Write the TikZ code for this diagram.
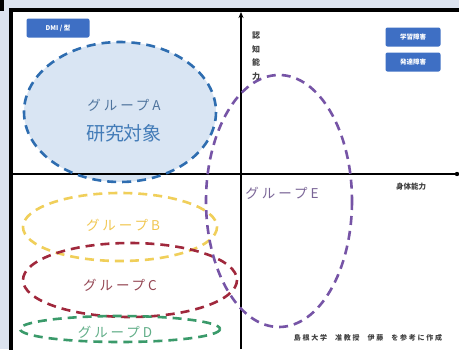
\documentclass[tikz,border=0pt]{standalone}
\usepackage{fontspec}
\setmainfont{Noto Sans CJK JP}
\newfontfamily\spaced[LetterSpace=22]{Noto Sans CJK JP}
\newfontfamily\credfont[LetterSpace=25]{Noto Sans CJK JP}
\usetikzlibrary{arrows.meta}
\definecolor{bgout}{HTML}{DCE3EF}
\definecolor{ablue}{HTML}{2E6DB0}
\definecolor{afill}{HTML}{D9E5F3}
\definecolor{byel}{HTML}{F0CF5A}
\definecolor{cred}{HTML}{A0283C}
\definecolor{dgreen}{HTML}{3A9A6A}
\definecolor{epur}{HTML}{7654A6}
\definecolor{btn}{HTML}{3E6FC4}
\tikzset{
  grp/.style={line width=2.6pt, dash pattern=on 9pt off 6pt},
  glabel/.style={font=\spaced\fontsize{13.5}{15}\selectfont},
  btnbox/.style={fill=btn, rounded corners=2pt, text=white, font=\bfseries\fontsize{6.5}{7}\selectfont, minimum width=55pt, minimum height=19pt, inner sep=0pt},
  small/.style={font=\bfseries\fontsize{7.5}{9}\selectfont, text=black!75}
}
\begin{document}
\begin{tikzpicture}[x=1pt,y=-1pt]
\useasboundingbox (0,0) rectangle (459,349);
\fill[bgout] (0,0) rectangle (459,349);
\fill[black] (0,0) rectangle (4,11);
\fill[white] (10,9) rectangle (459,349);
\draw[line width=3.5pt] (460,10) -- (11,10) -- (11,350);
% ellipse A
\fill[afill] (120,112) ellipse [x radius=96, y radius=70];
% axes
\coordinate (xs) at (12,174);
\coordinate (xe) at (457,174);
\coordinate (ys) at (241,349);
\coordinate (ye) at (241,12);
\draw[line width=1.8pt] (xs) -- (xe);
\fill (xe) circle (2.2);
\draw[line width=1.8pt, -{Stealth[length=6pt,width=5pt]}] (ys) -- (ye);
% group ellipses
\draw[grp, ablue] (120,112) ellipse [x radius=96, y radius=70];
\draw[grp, byel] (120,227) ellipse [x radius=97, y radius=34];
\draw[grp, cred] (130,280) ellipse [x radius=107, y radius=37];
\draw[grp, dgreen] (120,329) ellipse [x radius=100, y radius=13];
\draw[grp, epur] (279,201) ellipse [x radius=73, y radius=126];
% labels
\node[glabel, text=ablue!60!gray] (la) at (124,105) {グループA};
\node[font=\fontsize{19}{21}\selectfont, text=ablue!90] (lb) at (124,133) {研究対象};
\node[glabel, text=byel!90!orange] (lB) at (123,225) {グループB};
\node[glabel, text=cred!65!gray] (lC) at (120,285) {グループC};
\node[glabel, text=dgreen!80] (lD) at (115,332) {グループD};
\node[glabel, text=epur!60!gray] (lE) at (282,193) {グループE};
% axis labels
\node[small, align=center, font=\bfseries\fontsize{8}{13.5}\selectfont] (ylab) at (256,56) {認\\知\\能\\力};
\node[small] (xlab) at (411,187) {身体能力};
% buttons
\node[btnbox] (b1) at (413,37) {学習障害};
\node[btnbox] (b2) at (413,62) {発達障害};
\node[btnbox, minimum width=63pt, minimum height=19pt] (b0) at (58,28) {DMI / 型};
% credit
\node[small, font=\credfont\bfseries\fontsize{7}{8}\selectfont] (cr) at (368,338) {島根大学\hspace{8pt}准教授\hspace{8pt}伊藤\hspace{8pt}を参考に作成};
\end{tikzpicture}
\end{document}
